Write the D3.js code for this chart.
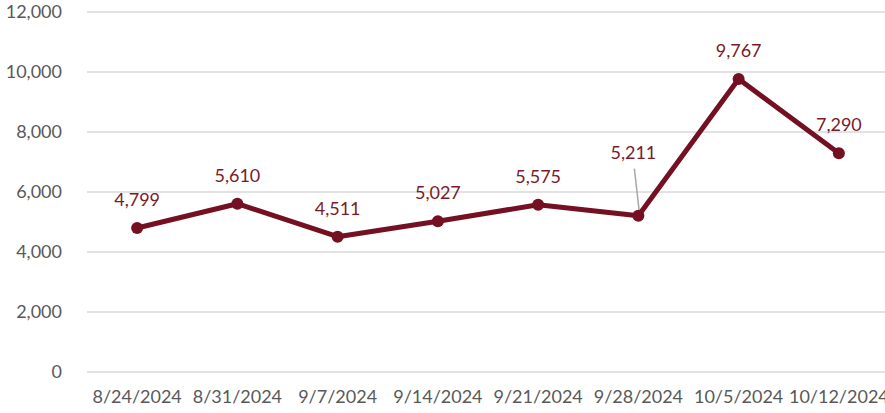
<!DOCTYPE html>
<html><head><meta charset="utf-8">
<script src="https://cdn.jsdelivr.net/npm/d3@7"></script>
<style>body{margin:0;background:#fff}svg{display:block}text{font-family:Lato,"Open Sans",sans-serif}</style>
</head><body><svg id="c" width="885" height="413"></svg>
<script>
const categories = ["8/24/2024","8/31/2024","9/7/2024","9/14/2024","9/21/2024","9/28/2024","10/5/2024","10/12/2024"];
const values = [4799,5610,4511,5027,5575,5211,9767,7290];
const yTicks = [0,2000,4000,6000,8000,10000,12000];

const svg = d3.select("#c");
const x = d3.scaleBand().domain(categories).range([87,889]);
const y = d3.scaleLinear().domain([0,12000]).range([372,12]);
const lineColor = "#741021", labelColor = "#7a1a2a";

// gridlines
svg.append("g").selectAll("line").data(yTicks).join("line")
  .attr("x1",87).attr("x2",885).attr("y1",d=>y(d)).attr("y2",d=>y(d))
  .attr("stroke","#d9d9d9").attr("stroke-width",1.5);

// y axis labels
svg.append("g").selectAll("text").data(yTicks).join("text")
  .attr("x",62).attr("y",d=>y(d)).attr("dy","0.35em").attr("text-anchor","end")
  .attr("fill","#595959").attr("font-size",18).text(d=>d3.format(",")(d));

// x axis labels
svg.append("g").selectAll("text").data(categories).join("text")
  .attr("x",d=>x(d)+x.bandwidth()/2).attr("y",403).attr("text-anchor","middle")
  .attr("fill","#595959").attr("font-size",18).text(d=>d);

const cx = (d,i)=>x(categories[i])+x.bandwidth()/2;

// line
svg.append("path").datum(values)
  .attr("d", d3.line().x((d,i)=>cx(d,i)).y(d=>y(d)))
  .attr("fill","none").attr("stroke",lineColor).attr("stroke-width",5).attr("stroke-linejoin","round");

// leader line for 5,211
const li = 5;
svg.append("line")
  .attr("x1",cx(values[li],li)-4).attr("y1",y(values[li])-47)
  .attr("x2",cx(values[li],li)+1).attr("y2",y(values[li])-3)
  .attr("stroke","#a6a6a6").attr("stroke-width",1.5);

// markers
svg.append("g").selectAll("circle").data(values).join("circle")
  .attr("cx",(d,i)=>cx(d,i)).attr("cy",d=>y(d)).attr("r",6).attr("fill",lineColor);

// data labels
svg.append("g").selectAll("text").data(values).join("text")
  .attr("x",(d,i)=>cx(d,i)-(i===li?5:0))
  .attr("y",(d,i)=>y(d)-(i===li?57:22))
  .attr("text-anchor","middle").attr("fill",labelColor).attr("font-size",18)
  .text(d=>d3.format(",")(d));
</script></body></html>
